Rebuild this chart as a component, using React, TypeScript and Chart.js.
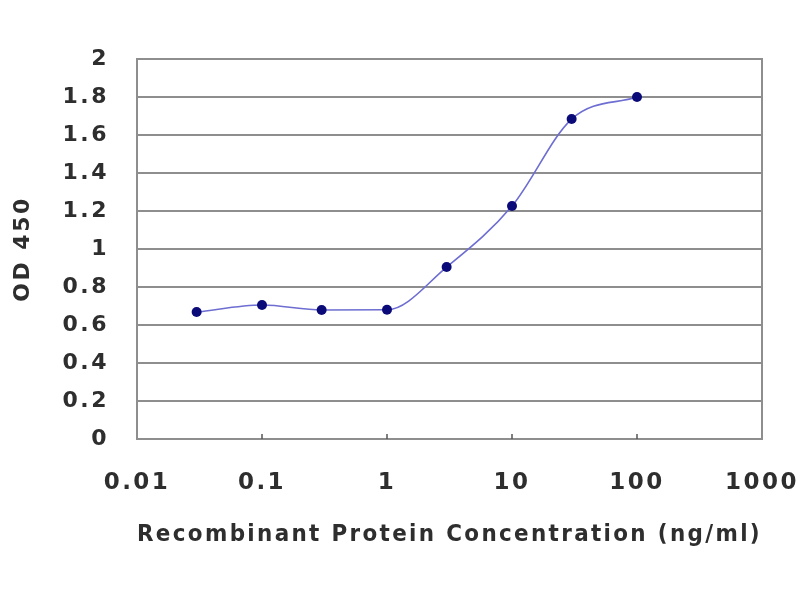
import React, { useEffect, useRef } from "react";
import { Chart, registerables } from "chart.js";

Chart.register(...registerables);

const concentrations = [0.03, 0.1, 0.3, 1, 3, 10, 30, 100];
const odValues = [0.668, 0.705, 0.679, 0.68, 0.905, 1.226, 1.684, 1.8];
const xTickValues = [0.01, 0.1, 1, 10, 100, 1000];
const xTickLabels = ["0.01", "0.1", "1", "10", "100", "1000"];
const yTickLabels = ["0", "0.2", "0.4", "0.6", "0.8", "1", "1.2", "1.4", "1.6", "1.8", "2"];

const FONT = "'DejaVu Sans', Verdana, sans-serif";
const TEXT = "#2e2e2e";
const GRID = "#8e8e8e";

const spacing = {
  id: "spacing",
  beforeUpdate(chart: any) {
    chart.ctx.letterSpacing = "2.5px";
  },
  beforeDraw(chart: any) {
    chart.ctx.letterSpacing = "2.5px";
  },
};

const frame = {
  id: "frame",
  beforeDatasetsDraw(chart: any) {
    const { ctx, chartArea } = chart;
    const xs = chart.scales.x;
    ctx.save();
    ctx.strokeStyle = GRID;
    ctx.lineWidth = 2;
    ctx.strokeRect(chartArea.left, chartArea.top, chartArea.right - chartArea.left, chartArea.bottom - chartArea.top);
    ctx.lineWidth = 1.5;
    ctx.strokeStyle = "#555";
    xTickValues.slice(1, -1).forEach((v) => {
      const px = xs.getPixelForValue(v);
      ctx.beginPath();
      ctx.moveTo(px, chartArea.bottom);
      ctx.lineTo(px, chartArea.bottom - 5);
      ctx.stroke();
    });
    ctx.restore();
  },
};

export default function App() {
  const ref = useRef<HTMLCanvasElement | null>(null);
  useEffect(() => {
    if (!ref.current) return;
    const chart = new Chart(ref.current, {
      type: "line",
      data: {
        datasets: [
          {
            data: concentrations.map((c, i) => ({ x: c, y: odValues[i] })),
            borderColor: "#6d6dd2",
            borderWidth: 1.6,
            backgroundColor: "#0a0a78",
            pointBackgroundColor: "#0a0a78",
            pointBorderColor: "#0a0a78",
            pointRadius: 5,
            pointBorderWidth: 0,
            cubicInterpolationMode: "monotone",
            fill: false,
          },
        ],
      },
      options: {
        animation: false,
        responsive: false,
        devicePixelRatio: 1,
        layout: { padding: { top: 59, right: 38, left: 0, bottom: 0 } },
        plugins: { legend: { display: false }, tooltip: { enabled: false } },
        scales: {
          x: {
            type: "logarithmic",
            min: 0.01,
            max: 1000,
            afterBuildTicks: (scale: any) => {
              scale.ticks = xTickValues.map((v) => ({ value: v }));
            },
            afterFit: (scale: any) => {
              scale.height = 161;
              scale.paddingLeft = 0;
              scale.paddingRight = 0;
            },
            grid: { display: false, drawTicks: false },
            border: { display: false },
            ticks: {
              autoSkip: false,
              maxRotation: 0,
              padding: 30,
              color: TEXT,
              font: { family: FONT, size: 23, weight: "bold" },
              callback: (v: any) => {
                const i = xTickValues.findIndex((t) => Math.abs(t - Number(v)) < 1e-9);
                return i >= 0 ? xTickLabels[i] : "";
              },
            },
            title: {
              display: true,
              text: "Recombinant Protein Concentration (ng/ml)",
              color: TEXT,
              font: { family: FONT, size: 23, weight: "bold" },
              padding: { top: 0, bottom: 51 },
            },
          },
          y: {
            min: 0,
            max: 2,
            afterBuildTicks: (scale: any) => {
              scale.ticks = yTickLabels.map((l) => ({ value: Number(l) }));
            },
            afterFit: (scale: any) => {
              scale.width = 137;
              scale.paddingTop = 0;
              scale.paddingBottom = 0;
            },
            grid: { color: GRID, lineWidth: 2, drawTicks: false },
            border: { display: false },
            ticks: {
              padding: 28,
              color: TEXT,
              font: { family: FONT, size: 22, weight: "bold" },
              callback: (v: any) => {
                const i = yTickLabels.findIndex((l) => Math.abs(Number(l) - Number(v)) < 1e-9);
                return i >= 0 ? yTickLabels[i] : "";
              },
            },
            title: {
              display: true,
              text: "OD 450",
              color: TEXT,
              font: { family: FONT, size: 22, weight: "bold" },
              padding: { top: 10, bottom: 0 },
            },
          },
        },
      },
      plugins: [spacing, frame],
    });
    return () => chart.destroy();
  }, []);
  return (
    <div style={{ position: "fixed", left: 0, top: 0, width: 800, height: 600, background: "#fff" }}>
      <canvas ref={ref} width={800} height={600} style={{ width: 800, height: 600, display: "block" }} />
    </div>
  );
}
